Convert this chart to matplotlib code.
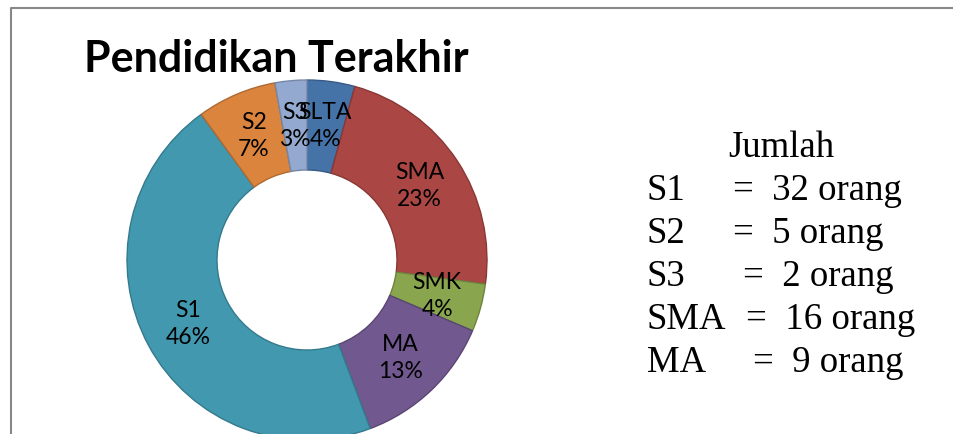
import numpy as np
import matplotlib
matplotlib.use('Agg')
from matplotlib import pyplot as plt
from matplotlib.colors import to_rgb

# data
kategori = ['SLTA', 'SMA', 'SMK', 'MA', 'S1', 'S2', 'S3']
jumlah = [3, 16, 3, 9, 32, 5, 2]
warna = ['#4572A7', '#AA4643', '#89A54E', '#71588F', '#4198AF', '#DB843D', '#93A9CF']
# baris keterangan di kanan
ket_kategori = ['S1', 'S2', 'S3', 'SMA', 'MA']

W, H = 954, 434
fig = plt.figure(figsize=(W / 100, H / 100), dpi=100)

# donut
cx, cy, r = 307, 260, 180
ax = fig.add_axes([(cx - r) / W, (H - cy - r) / H, 2 * r / W, 2 * r / H])
tepi = [tuple(np.array(to_rgb(c)) * 0.8) for c in warna]
wedges, _ = ax.pie(jumlah, colors=warna, startangle=90, counterclock=False,
                   radius=1.0, wedgeprops=dict(width=0.5, linewidth=1.0))
for w, e in zip(wedges, tepi):
    w.set_edgecolor(e)
total = sum(jumlah)
for w, nama, n in zip(wedges, kategori, jumlah):
    ang = np.deg2rad((w.theta1 + w.theta2) / 2)
    x, y = 0.75 * np.cos(ang), 0.75 * np.sin(ang)
    ax.text(x, y, f"{nama}\n{round(n / total * 100):.0f}%", ha='center', va='center',
            fontsize=16.5, family='Lato', linespacing=1.35, color='black')
ax.set_xlim(-1, 1)
ax.set_ylim(-1, 1)
ax.set_aspect('equal')
ax.axis('off')

# overlay in piksel
ov = fig.add_axes([0, 0, 1, 1], zorder=-1)
ov.set_xlim(0, W)
ov.set_ylim(H, 0)
ov.axis('off')
ov.plot([11.5, 11.5, W], [H, 7.5, 7.5], color='#888888', lw=1.5)

ov2 = fig.add_axes([0, 0, 1, 1], zorder=5)
ov2.set_xlim(0, W)
ov2.set_ylim(H, 0)
ov2.axis('off')
ov2.patch.set_alpha(0)
ov2.text(276, 72, 'Pendidikan Terakhir', ha='center', va='baseline',
         fontsize=31, fontweight='bold', family='Lato')

ov2.text(781, 157, 'Jumlah', ha='center', va='baseline', fontsize=26.5, family='Liberation Serif')
base_y = [200, 243, 286, 329, 372]
eq_x = [733, 733, 743, 746, 753]
for nama, yb, ex in zip(ket_kategori, base_y, eq_x):
    n = jumlah[kategori.index(nama)]
    ov2.text(647, yb, nama, ha='left', va='baseline', fontsize=26.5, family='Liberation Serif')
    ov2.text(ex, yb, f"=  {n} orang", ha='left', va='baseline', fontsize=26.5,
             family='Liberation Serif')

fig.savefig('out.png', dpi=100)
plt.close(fig)
